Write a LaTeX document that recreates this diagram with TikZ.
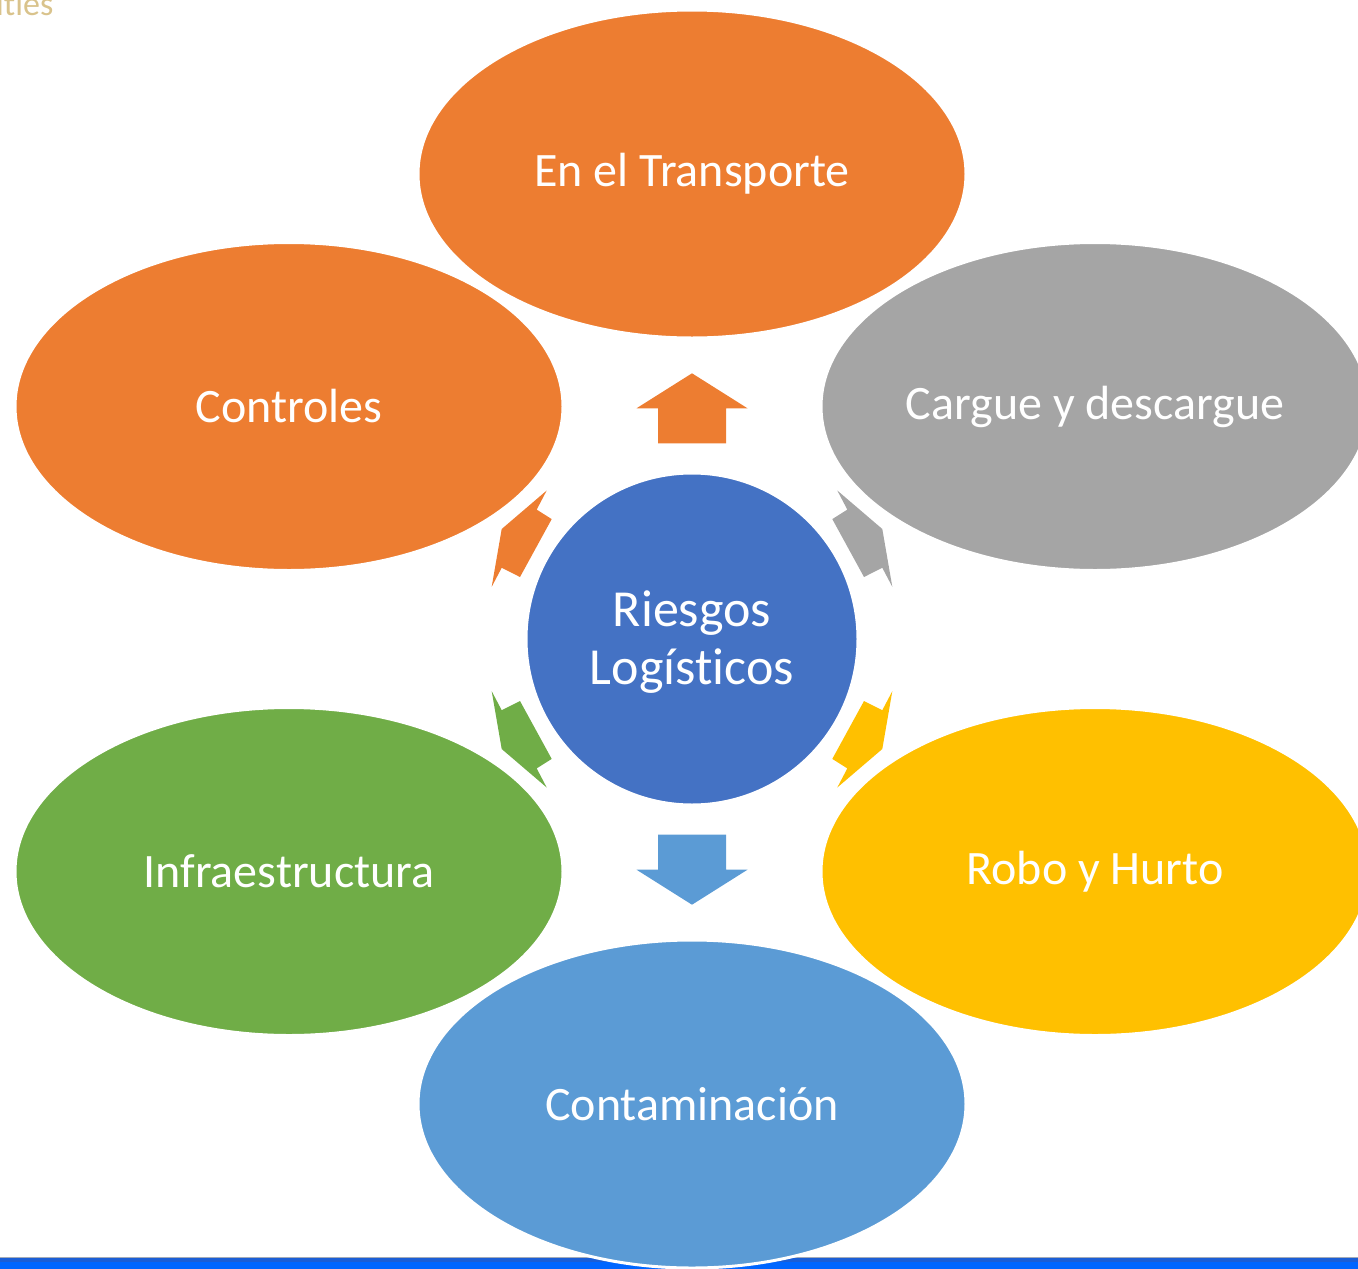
\documentclass[tikz,border=0pt]{standalone}
\usepackage{fontspec}
\setmainfont{Carlito}[Ligatures={NoCommon}]
\usetikzlibrary{shapes.geometric}
\definecolor{cOrange}{HTML}{ED7D31}
\definecolor{cGray}{HTML}{A5A5A5}
\definecolor{cBlue}{HTML}{4472C4}
\definecolor{cYellow}{HTML}{FFC000}
\definecolor{cGreen}{HTML}{70AD47}
\definecolor{cLight}{HTML}{5B9BD5}
\definecolor{cGold}{HTML}{D9C38C}
\definecolor{barTop}{HTML}{A3ABB8}
\definecolor{barDark}{HTML}{1B5ED6}
\definecolor{barBlue}{HTML}{0066FF}
\tikzset{
  oval/.style={ellipse, draw=white, line width=3pt, inner sep=0pt,
    minimum width=548pt, minimum height=328pt, text=white,
    font=\fontsize{48}{58}\selectfont},
  hubnode/.style={circle, draw=white, line width=3pt, inner sep=0pt,
    minimum size=332pt, fill=cBlue, text=white, align=center,
    font=\fontsize{52}{58}\selectfont}
}
\begin{document}
\begin{tikzpicture}[x=1pt,y=-1pt]
\useasboundingbox (0,0) rectangle (1358,1269);
\clip (0,0) rectangle (1358,1269);
% top-left partial text
\node[anchor=base west, inner sep=0pt, text=cGold, font=\fontsize{34}{40}\selectfont] (hdr) at (-4,15) {ities};
% bottom bar
\fill[barBlue] (0,1257) rectangle (1358,1269);
\fill[barDark] (0,1258) rectangle (1358,1261.5);
\fill[barTop] (0,1256.5) rectangle (1358,1258);
% hub centre
\coordinate (C) at (692,639);
% block arrows around the hub
\begin{scope}[shift={(C)}]
  \fill[cOrange] (0,-265.7) -- (55.5,-230.7) -- (34,-230.7) -- (34,-195.7) -- (-34,-195.7) -- (-34,-230.7) -- (-55.5,-230.7) -- cycle;
  \fill[cLight] (0,265.7) -- (55.5,230.7) -- (34,230.7) -- (34,195.7) -- (-34,195.7) -- (-34,230.7) -- (-55.5,230.7) -- cycle;
  \fill[cOrange] (-145.3,-148.5) -- (-155.3,-129.4) -- (-140.3,-119.9) -- (-172,-62) -- (-190.3,-71.2) -- (-200.3,-52.2) -- (-190.3,-110) -- cycle;
  \fill[cGray] (145.3,-148.5) -- (155.3,-129.4) -- (140.3,-119.9) -- (172,-62) -- (190.3,-71.2) -- (200.3,-52.2) -- (190.3,-110) -- cycle;
  \fill[cGreen] (-145.3,148.5) -- (-155.3,129.4) -- (-140.3,119.9) -- (-172,62) -- (-190.3,71.2) -- (-200.3,52.2) -- (-190.3,110) -- cycle;
  \fill[cYellow] (145.3,148.5) -- (155.3,129.4) -- (140.3,119.9) -- (172,62) -- (190.3,71.2) -- (200.3,52.2) -- (190.3,110) -- cycle;
\end{scope}
% ellipses
\node[oval, fill=cOrange] (trans) at (692,174) {En el Transporte};
\node[oval, fill=cOrange] (ctrl) at (289,406.5) {Controles};
\node[oval, fill=cGray] (carg) at (1095,406.5) {Cargue y descargue};
\node[oval, fill=cGreen] (infra) at (289,871.5) {Infraestructura};
\node[oval, fill=cYellow] (robo) at (1095,871.5) {Robo y Hurto};
\node[oval, fill=cLight] (cont) at (692,1104) {Contaminación};
\node[hubnode] (hub) at (C) {};
\node[text=white, align=center, inner sep=0pt, font=\fontsize{52}{58}\selectfont] (hubtext) at (692,642) {Riesgos\\Logísticos};
\end{tikzpicture}
\end{document}
